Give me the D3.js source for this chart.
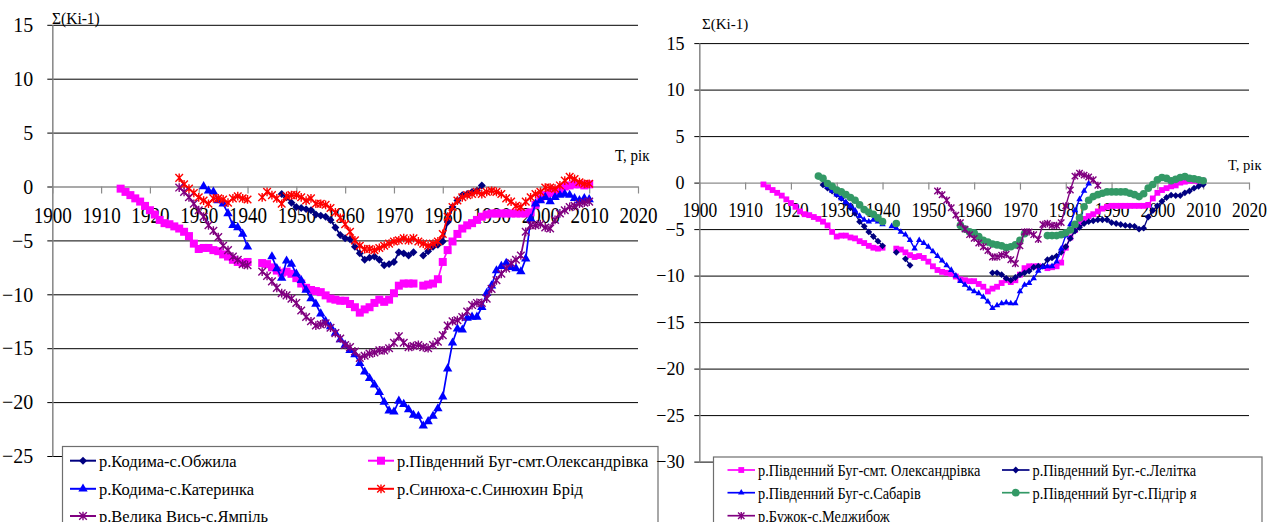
<!DOCTYPE html>
<html>
<head>
<meta charset="utf-8">
<script src="https://cdn.jsdelivr.net/npm/d3@7"></script>
<style>
  body { margin: 0; background: #fff; }
  svg { display: block; }
  svg text { font-family: "Liberation Serif", "Times New Roman", Times, "DejaVu Serif", serif; fill: #000; }
</style>
</head>
<body>
<svg id="chart" width="1279" height="522"></svg>
<script>
// ---- data (one value per year, null = no data) ----
const xTicks = [1900, 1910, 1920, 1930, 1940, 1950, 1960, 1970, 1980, 1990, 2000, 2010, 2020];
const leftYTicks = [15, 10, 5, 0, -5, -10, -15, -20, -25];
const rightYTicks = [15, 10, 5, 0, -5, -10, -15, -20, -25, -30];

// р.Південний Буг-смт.Олександрівка (shown on both panels)
const oleksStart = 1914;
const oleks = [
  -0.2, -0.5, -0.8, -1.1, -1.4, -1.8, -2.2, -2.6, -3.1, -3.4,
  -3.5, -3.7, -3.9, -4.2, -4.6, -5.3, -5.8, -5.7, -5.7, -5.9,
  -6.0, -6.3, -6.5, -6.8, -7.0, -7.1, -7.0, null, null, -7.1,
  -7.2, -7.5, -7.8, -8.0, -7.9, -8.1, -8.5, -9.0, -9.4, -9.6,
  -9.7, -9.8, -10.1, -10.4, -10.5, -10.6, -10.6, -10.9, -11.2, -11.7,
  -11.4, -11.2, -10.8, -10.5, -10.7, -10.5, -9.9, -9.2, -9.0, -9.0,
  -9.0, null, -9.2, -9.1, -9.0, -8.6, -7.0, -5.9, -5.1, -4.4,
  -3.9, -3.6, -3.4, -3.1, -2.8, -2.6, -2.5, -2.5, -2.5, -2.5,
  -2.5, -2.5, -2.5, -2.5, -2.4, -1.7, -1.1, -0.8, -0.6, -0.4,
  -0.3, 0.0, 0.1, 0.2, 0.2, 0.1, 0.2
];

// р.Кодима-с.Обжила
const obzhylaStart = 1947;
const obzhyla = [
  -0.7, -1.0, -1.5, -1.9, -2.0, -2.1, -2.2, -2.6, -2.7, -2.8,
  -3.1, -3.8, -4.5, -4.8, -4.9, -5.6, -6.2, -6.8, -6.6, -6.5,
  -6.8, -7.3, -7.2, -7.0, -6.1, -6.2, -6.4, -6.1, null, -6.4,
  -6.0, -5.6, -5.4, -5.1, -3.3, -1.9, -1.3, -0.8, -0.7, -0.5,
  -0.4, 0.1
];

// р.Кодима-с.Катеринка
const katerynkaStart = 1931;
const katerynka = [
  0.0, -0.4, -0.5, -1.3, -1.6, -2.5, -3.6, -3.8, -4.4, -5.6,
  null, null, null, null, -6.5, -7.6, -8.5, -6.9, -7.2, -8.1,
  -8.7, -9.6, -10.4, -10.9, -11.8, -12.5, -13.0, -13.6, -14.2, -14.7,
  -15.2, -15.6, -16.4, -17.2, -17.8, -18.4, -19.1, -20.0, -20.8, -20.9,
  -19.9, -20.2, -20.7, -21.2, -21.3, -22.2, -21.8, -21.3, -20.6, -19.5,
  -16.9, -14.5, -13.2, -13.3, -12.2, -12.1, -12.1, -11.2, -9.9, -9.2,
  -7.8, -7.4, -7.1, -7.5, -7.6, -7.9, -6.7, -3.0, -1.6, -1.3,
  -1.0, -1.4, -1.0, -0.8, -0.7, -0.8, -1.1, -1.3, -1.1, -1.2
];

// р.Синюха-с.Синюхин Брід
const synyukhaStart = 1926;
const synyukha = [
  0.8, 0.2, -0.2, -0.6, -1.0, -1.3, -1.6, -1.1, -1.1, -1.2,
  -1.5, -1.1, -0.9, -1.1, -1.2, null, null, -1.0, -0.5, -0.8,
  -1.1, -1.6, -0.9, -0.8, -0.8, -1.0, -1.3, -1.1, -1.6, -1.6,
  -1.7, -2.0, -2.4, -2.9, -3.5, -4.2, -5.0, -5.5, -5.8, -5.8,
  -5.9, -5.7, -5.5, -5.3, -5.1, -5.0, -4.8, -5.0, -4.8, -5.1,
  -5.3, -5.5, -5.3, -5.1, -4.4, -2.8, -1.9, -1.3, -1.0, -0.8,
  -0.7, -0.5, -0.7, -0.5, -0.4, -0.5, -0.7, -1.1, -1.4, -1.8,
  -1.9, -1.4, -1.0, -0.7, -0.5, -0.1, -0.1, -0.2, 0.1, 0.55,
  0.9, 0.7, 0.4, 0.25, 0.25
];

// р.Велика Вись-с.Ямпіль
const yampilStart = 1926;
const yampil = [
  -0.1, -0.5, -1.0, -1.6, -2.2, -2.8, -3.6, -4.1, -4.7, -5.5,
  -5.9, -6.5, -6.8, -7.2, -7.3, null, null, -7.9, -8.3, -8.8,
  -9.4, -9.9, -10.1, -10.4, -10.8, -11.5, -12.1, -12.5, -12.9, -12.8,
  -12.7, -13.1, -13.6, -14.1, -14.7, -14.9, -15.3, -15.9, -15.7, -15.5,
  -15.4, -15.2, -15.2, -15.0, -14.5, -13.9, -14.5, -14.9, -14.8, -14.7,
  -14.9, -15.0, -14.7, -14.4, -13.8, -12.9, -12.5, -12.4, -12.1, -11.6,
  -11.0, -10.8, -10.8, -10.4, -9.5, -8.7, -8.1, -7.6, -7.1, -6.8,
  -6.4, -4.2, -3.6, -3.6, -3.5, -3.8, -3.9, -3.1, -2.5, -2.2,
  -1.9, -1.8, -1.6, -1.5, -1.4
];

// р.Південний Буг.-с.Лелітка
const lelitkaStart = 1927;
const lelitka = [
  -0.25, -0.6, -0.9, -1.3, -1.7, -2.2, -2.7, -3.3, -4.2, -4.7,
  -5.3, -5.8, -6.3, -6.8, null, null, -7.5, null, -8.2, -8.9,
  null, null, null, null, null, null, null, null, null, null,
  null, null, null, null, null, null, null,
  -9.7, -9.7, -9.9, -10.3, -10.5, -10.2,
  -9.9, -9.7, -9.5, -9.1, -9.0, -9.0, -8.3, -8.1, -7.9, -7.5,
  -6.9, -6.0, -5.2, -4.8, -4.4, -4.2, -4.1, -4.0, -4.0, -4.0,
  -4.3, -4.4, -4.5, -4.6, -4.65, -4.7, -5.0, -4.9, -3.7, -3.0,
  -2.5, -2.0, -1.6, -1.35, -1.4, -1.4, -1.1, -0.9, -0.6, -0.4,
  -0.2
];

// р.Південний Буг-с.Сабарів
const sabarivStart = 1928;
const sabariv = [
  -0.4, -0.9, -1.3, -1.7, -2.1, -2.5, -3.0, -3.6, -4.0, -4.2,
  -4.0, -4.2, -4.5, null, -4.7, -4.9, -5.3, -5.6, -6.2, -7.1,
  -6.2, -6.5, -6.9, -7.4, -7.9, -8.4, -8.9, -9.4, -10.0, -10.6,
  -11.0, -11.4, -11.7, -11.9, -12.3, -12.8, -13.5, -13.2, -13.0, -12.9,
  -13.0, -13.0, -11.7, -11.0, -10.8, -10.3, -9.5, -9.1, -9.0, -9.0,
  -8.5, -7.1, -5.7, -4.5, -3.0, -1.8, -0.9, -0.1
];

// р.Південний Буг-с.Підгір'я
const pidhiryaStart = 1926;
const pidhirya = [
  0.7, 0.45, -0.1, -0.4, -0.8, -1.0, -1.3, -1.6, -1.9, -2.4,
  -2.9, -3.2, -3.4, -3.8, -4.2, null, null, -4.4,
  null, null, null, null, null, null, null, null, null, null, null, null, null,
  -4.6, -5.0, -5.3, -5.4, -5.8, -6.2, -6.4, -6.6, -6.7, -6.8,
  -7.0, -6.9, -6.7, -6.2, -5.5, null, null, null, null, -5.7,
  -5.7, -5.7, -5.6, -5.4, -5.1, -4.5, -3.8, -2.6, -1.9, -1.5,
  -1.3, -1.15, -1.0, -1.0, -1.0, -1.0, -1.0, -1.15, -1.3, -1.5,
  -1.2, -0.6, -0.2, 0.3, 0.55, 0.45, 0.2, 0.35, 0.55, 0.65,
  0.45, 0.4, 0.3, 0.2
];

// р.Бужок-с.Меджибож
const medzhybizhStart = 1952;
const medzhybizh = [
  -0.9, -1.3, -1.9, -2.7, -3.5, -4.3, -5.0, -5.6, -6.0, -6.5,
  -6.9, -7.3, -8.0, -8.0, -7.8, -7.7, -8.3, -8.7, -6.8, -5.3,
  -5.3, -5.6, -6.1, -4.5, -4.4, -4.6, -4.6, -4.3, -2.5, -0.8,
  0.7, 1.0, 0.8, 0.6, 0.3, -0.3
];

// ---- drawing ----
const svg = d3.select("#chart");
const FONT = '"Liberation Serif", "Times New Roman", Times, "DejaVu Serif", serif';

function pts(start, vals) {
  return vals.map((v, i) => ({ year: start + i, v }));
}

function markerPath(kind, size) {
  if (kind === "star") {
    const s = size;
    return `M${-s},${-s}L${s},${s}M${-s},${s}L${s},${-s}M0,${-s * 1.15}L0,${s * 1.15}`;
  }
  const types = { diamond: d3.symbolDiamond2, square: d3.symbolSquare, triangle: d3.symbolTriangle, circle: d3.symbolCircle };
  return d3.symbol(types[kind], size)();
}

function addText(g, x, y, str, size, k, anchor) {
  return g.append("text")
    .attr("transform", `translate(${x},${y}) scale(${k},1)`)
    .attr("font-size", size)
    .attr("font-family", FONT)
    .attr("text-anchor", anchor || "start")
    .text(str);
}

const panels = [
  {
    xRange: [52.3, 638], yDomain: [-25, 15], yRange: [456, 24.8], yTicks: leftYTicks,
    yFont: 21, yK: 0.95, yPad: 15, xFont: 23, xK: 0.83, xLabelY: 37,
    lineW: 1.7,
    title: { x: 52, y: 23.5, size: 16 }, tLabel: { x: 615, y: 161, size: 16 },
    legend: { x: 62.5, y: 446.5, w: 595.5, cols: [70, 368], rows: [460.7, 488.8, 516], lineLen: 26, font: 17, k: 0.97 },
    series: [
      { name: "р.Кодима-с.Обжила", color: "#000080", marker: "diamond", size: 40, data: pts(obzhylaStart, obzhyla) },
      { name: "р.Південний Буг-смт.Олександрівка", color: "#FF00FF", marker: "square", size: 64, data: pts(oleksStart, oleks) },
      { name: "р.Кодима-с.Катеринка", color: "#0000FF", marker: "triangle", size: 38, data: pts(katerynkaStart, katerynka) },
      { name: "р.Синюха-с.Синюхин Брід", color: "#FF0000", marker: "star", size: 3.8, data: pts(synyukhaStart, synyukha) },
      { name: "р.Велика Вись-с.Ямпіль", color: "#800080", marker: "star", size: 3.8, data: pts(yampilStart, yampil) }
    ]
  },
  {
    xRange: [699.3, 1249], yDomain: [-30, 15], yRange: [461.6, 43.1], yTicks: rightYTicks,
    yFont: 19, yK: 0.95, yPad: 10.5, xFont: 21.5, xK: 0.81, xLabelY: 34,
    lineW: 1.4,
    title: { x: 702, y: 29, size: 15.5 }, tLabel: { x: 1228, y: 170, size: 15.5 },
    legend: { x: 713.5, y: 457, w: 548.5, cols: [727.5, 1002], rows: [470, 492.7, 515.7], lineLen: 27.5, font: 16.5, k: 0.87 },
    series: [
      { name: "р.Південний Буг-смт. Олександрівка", color: "#FF00FF", marker: "square", size: 34, data: pts(oleksStart, oleks) },
      { name: "р.Південний Буг.-с.Лелітка", color: "#000080", marker: "diamond", size: 30, data: pts(lelitkaStart, lelitka) },
      { name: "р.Південний Буг-с.Сабарів", color: "#0000FF", marker: "triangle", size: 18, data: pts(sabarivStart, sabariv) },
      { name: "р.Південний Буг-с.Підгір я", color: "#339966", marker: "circle", size: 46, data: pts(pidhiryaStart, pidhirya) },
      { name: "р.Бужок-с.Меджибож", color: "#800080", marker: "star", size: 3.2, data: pts(medzhybizhStart, medzhybizh) }
    ]
  }
];

function drawMarker(g, s, x, y) {
  const p = g.append("path")
    .attr("transform", `translate(${x},${y})`)
    .attr("d", markerPath(s.marker, s.size));
  if (s.marker === "star") p.attr("fill", "none").attr("stroke", s.color).attr("stroke-width", 1.4);
  else p.attr("fill", s.color).attr("stroke", "none");
}

panels.forEach(p => {
  const x = d3.scaleLinear().domain([1900, 2020]).range(p.xRange);
  const y = d3.scaleLinear().domain(p.yDomain).range(p.yRange);
  const w = p.xRange[1] - p.xRange[0];
  const g = svg.append("g");

  // horizontal grid
  g.append("g")
    .attr("transform", `translate(${p.xRange[0]},0)`)
    .call(d3.axisLeft(y).tickValues(p.yTicks.filter(t => t !== 0)).tickSize(-w).tickFormat(""))
    .call(a => a.select(".domain").remove())
    .call(a => a.selectAll("line").attr("stroke", "#000").attr("stroke-width", 1));

  // y axis
  g.append("g")
    .attr("transform", `translate(${p.xRange[0]},0)`)
    .attr("font-family", FONT)
    .call(d3.axisLeft(y).tickValues(p.yTicks).tickSize(5).tickSizeOuter(0).tickPadding(p.yPad))
    .call(a => a.attr("font-family", FONT))
    .call(a => a.select(".domain").attr("stroke", "#8c8c8c").attr("stroke-width", 1.6))
    .call(a => a.selectAll(".tick line").attr("stroke", "#000"))
    .call(a => a.selectAll(".tick text")
      .attr("font-size", p.yFont)
      .attr("fill", "#000")
      .attr("transform", `scale(${p.yK},1)`));

  // x axis through zero
  g.append("g")
    .attr("transform", `translate(0,${y(0)})`)
    .call(d3.axisBottom(x).tickValues(xTicks).tickSize(7).tickSizeOuter(0).tickFormat(d3.format("d")))
    .call(a => a.attr("font-family", FONT))
    .call(a => a.select(".domain").attr("stroke", "#8c8c8c").attr("stroke-width", 1.4))
    .call(a => a.selectAll(".tick line").attr("stroke", "#8c8c8c").attr("stroke-width", 1.2))
    .call(a => a.selectAll(".tick text")
      .attr("y", p.xLabelY).attr("dy", "0")
      .attr("font-size", p.xFont)
      .attr("fill", "#000")
      .attr("transform", `scale(${p.xK},1)`));

  addText(g, p.title.x, p.title.y, "Σ(Ki-1)", p.title.size, 0.97);
  addText(g, p.tLabel.x, p.tLabel.y, "T, рік", p.tLabel.size, 0.94);

  // series
  const line = d3.line()
    .defined(d => d.v !== null)
    .x(d => x(d.year))
    .y(d => y(d.v));

  p.series.forEach(s => {
    const sg = g.append("g");
    sg.append("path")
      .datum(s.data)
      .attr("fill", "none")
      .attr("stroke", s.color)
      .attr("stroke-width", p.lineW)
      .attr("d", line);
    s.data.filter(d => d.v !== null).forEach(d => drawMarker(sg, s, x(d.year), y(d.v)));
  });

  // legend
  const L = p.legend;
  const lg = g.append("g");
  lg.append("rect")
    .attr("x", L.x).attr("y", L.y)
    .attr("width", L.w).attr("height", 120)
    .attr("fill", "#fff")
    .attr("stroke", "#6e6e6e")
    .attr("stroke-width", 1.2);
  p.series.forEach((s, i) => {
    const cx = L.cols[i % 2];
    const cy = L.rows[Math.floor(i / 2)];
    lg.append("line")
      .attr("x1", cx).attr("x2", cx + L.lineLen)
      .attr("y1", cy).attr("y2", cy)
      .attr("stroke", s.color).attr("stroke-width", p.lineW + 0.3);
    drawMarker(lg, s, cx + L.lineLen / 2, cy);
    addText(lg, cx + L.lineLen + 3, cy + 6, s.name, L.font, L.k);
  });
});
</script>
</body>
</html>
